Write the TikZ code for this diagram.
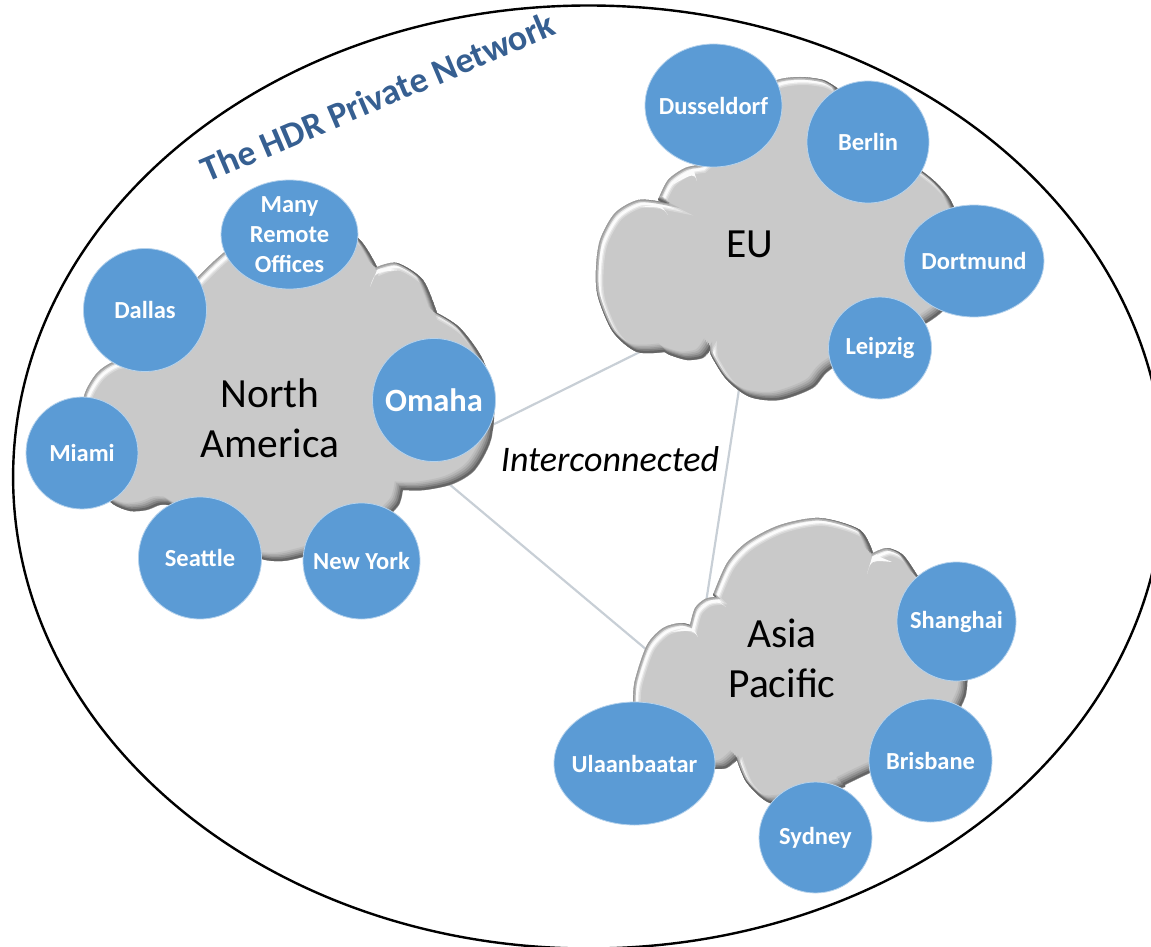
\documentclass[tikz,border=0pt]{standalone}
\usepackage{fontspec}
\setmainfont{Carlito}
\usetikzlibrary{shapes.geometric}
\definecolor{bubble}{HTML}{5B9BD5}
\definecolor{cloudgray}{HTML}{C9C9C9}
\definecolor{linkgray}{HTML}{C8CFD6}
\definecolor{titleblue}{HTML}{365F91}
\newcommand{\bevelcloud}[2]{%
  \begin{scope}
    \clip #1;
    \fill[cloudgray] #1;
    \draw[shift={(3.5,4)},line width=8pt,color=white!25!cloudgray] #1;
    \draw[shift={(3.5,4)},line width=5pt,color=white!60!cloudgray] #1;
    \draw[shift={(3.5,4)},line width=2.5pt,color=white!95!cloudgray] #1;
    #2
    \draw[line width=5pt,color=black!8!cloudgray] #1;
    \draw[line width=2.4pt,color=black!22!cloudgray] #1;
    \draw[shift={(-7,-7)},line width=3pt,color=black!6!cloudgray] #1;
    \draw[shift={(-5.5,-5.5)},line width=3pt,color=black!14!cloudgray] #1;
    \draw[shift={(-4,-4)},line width=3pt,color=black!24!cloudgray] #1;
    \draw[shift={(-2.5,-2.5)},line width=3pt,color=black!36!cloudgray] #1;
    \draw[shift={(-1.2,-1.2)},line width=2.4pt,color=black!50!cloudgray] #1;
  \end{scope}}
\newcommand{\crescent}[4]{\fill[white!92!cloudgray] (#1) -- (#2) .. controls (#3) .. (#4) -- cycle;}
\tikzset{
  bubblenode/.style={ellipse,fill=bubble,draw=bubble!45!white,line width=0.8pt,inner sep=0pt},
  btext/.style={text=white,font=\fontsize{24.5}{30}\selectfont\bfseries,align=center},
  cloudlabel/.style={font=\fontsize{41.5}{50}\selectfont,align=center,text=black},
  link/.style={draw=linkgray,line width=2.2pt},
}
\begin{document}
\begin{tikzpicture}[x=1pt,y=-1pt]
\useasboundingbox (0,0) rectangle (1151,947);
\begin{scope}
  \clip (0,0) rectangle (1151,947);
  \node[ellipse,draw=black,line width=2.4pt,minimum width=1151pt,minimum height=943pt,inner sep=0pt] (world) at (588.6,477) {};
\end{scope}

% connector end points, hidden behind the clouds
\coordinate (naNE) at (470,436);
\coordinate (euW)  at (660,342);
\coordinate (naSE) at (430,468);
\coordinate (apW)  at (660,661);
\coordinate (euS)  at (742,370);
\coordinate (apN)  at (702.5,625);
\draw[link] (naNE) -- (euW);
\draw[link] (naSE) -- (apW);
\draw[link] (euS) -- (apN);

% North America cloud
\bevelcloud{(80,420) -- plot[smooth] coordinates {(80,420) (85,393) (97,373) (113,362) (135,358)}
  -- plot[smooth] coordinates {(170,340) (180,300) (198,277) (227,250) (265,225) (320,220) (358,238) (377,267)}
  -- plot[smooth] coordinates {(377,267) (397,263) (423,280) (437,313)}
  -- plot[smooth] coordinates {(437,313) (460,328) (483,360) (494,400) (491,440) (475,470) (453,484) (425,490) (403,490)}
  -- plot[smooth] coordinates {(403,490) (399,505) (385,520)}
  -- plot[smooth] coordinates {(345,545) (303,557) (283,561) (262,559) (240,545)}
  -- plot[smooth] coordinates {(170,505) (160,505) (147,510) (130,511) (113,504) (100,490)}
  -- cycle}{\crescent{378,268}{370,287}{375,272}{400,270}}

% EU cloud
\bevelcloud{(665,352) -- plot[smooth] coordinates {(665,352) (637,352) (613,332) (598,297) (596,270) (600,240) (615,213) (638,200) (662,202)}
  -- plot[smooth] coordinates {(658,200) (668,180) (685,168) (700,165)}
  -- plot[smooth] coordinates {(740,130) (760,92) (777,80) (800,77) (823,80) (837,88)}
  -- plot[smooth] coordinates {(860,130) (923,172) (943,190) (953,205) (965,240) (960,290) (942,312) (927,323)}
  -- plot[smooth] coordinates {(880,340) (830,370) (813,388) (780,400) (750,397) (727,380) (712,357) (710,350)}
  -- plot[smooth] coordinates {(710,350) (703,358) (687,360) (670,355) (665,352)}
  -- cycle}{\crescent{660,204}{668,215}{662,207}{640,207}\crescent{693,168}{697,181}{694,173}{672,185}}

% Asia Pacific cloud
\bevelcloud{(633,715) -- plot[smooth] coordinates {(633,715) (633,702) (635,680) (647,645) (663,628) (680,623) (690,625)}
  -- plot[smooth] coordinates {(690,625) (695,608) (705,599) (715,597)}
  -- plot[smooth] coordinates {(713,595) (727,563) (747,542) (780,525) (820,518) (860,530) (873,553)}
  -- plot[smooth] coordinates {(873,553) (887,548) (903,555) (917,575)}
  -- plot[smooth] coordinates {(940,600) (965,650) (967,687) (962,705) (940,745)}
  -- plot[smooth] coordinates {(900,760) (870,773) (845,785)}
  -- plot[smooth] coordinates {(845,787) (800,800) (770,803) (747,783) (737,760)}
  -- plot[smooth] coordinates {(737,760) (727,768) (715,769) (690,770)}
  -- cycle}{\crescent{692,626}{698,637}{693,630}{672,632}\crescent{715,598}{726,607}{718,601}{700,606}\crescent{873,554}{867,574}{871,560}{892,562}}

% cloud labels
\node[cloudlabel] (na) at (270,418) {North\\America};
\node[cloudlabel] (eu) at (750,244) {EU};
\node[cloudlabel] (ap) at (782,658) {Asia\\Pacific};

% bubbles
\node[bubblenode,minimum width=137pt,minimum height=109pt,label={[btext]center:{Many\\Remote\\Offices}}] (remote) at (289.5,234.5) {};
\node[bubblenode,minimum width=123pt,minimum height=123pt,label={[btext]center:Dallas}] (dallas) at (145,310) {};
\node[bubblenode,minimum width=123pt,minimum height=123pt,label={[btext,font=\fontsize{32.5}{36}\selectfont\bfseries]center:Omaha}] (omaha) at (434,400) {};
\node[bubblenode,minimum width=112pt,minimum height=112pt,label={[btext]center:Miami}] (miami) at (82,453) {};
\node[bubblenode,minimum width=123pt,minimum height=122pt,label={[btext]center:Seattle}] (seattle) at (200,558) {};
\node[bubblenode,minimum width=117pt,minimum height=116pt,label={[btext]center:New York}] (newyork) at (361.5,561) {};

\node[bubblenode,minimum width=137pt,minimum height=123pt,label={[btext]center:Dusseldorf}] (dusseldorf) at (713.5,105.5) {};
\node[bubblenode,minimum width=122pt,minimum height=122pt,label={[btext]center:Berlin}] (berlin) at (868,142) {};
\node[bubblenode,minimum width=140pt,minimum height=112pt,label={[btext]center:Dortmund}] (dortmund) at (974,261) {};
\node[bubblenode,minimum width=103pt,minimum height=102pt,label={[btext]center:Leipzig}] (leipzig) at (880,348) {};

\node[bubblenode,minimum width=119pt,minimum height=119pt,label={[btext]center:Shanghai}] (shanghai) at (956.5,621.5) {};
\node[bubblenode,minimum width=123pt,minimum height=123pt,label={[btext]center:Brisbane}] (brisbane) at (930.5,760.5) {};
\node[bubblenode,minimum width=113pt,minimum height=111pt,label={[btext]center:Sydney}] (sydney) at (815.5,837.5) {};
\node[bubblenode,minimum width=161pt,minimum height=123pt,label={[btext]center:Ulaanbaatar}] (ulaan) at (634.5,763.5) {};

% other text
\node[font=\fontsize{36}{40}\selectfont\itshape,text=black] (inter) at (610,459) {Interconnected};
\node[font=\fontsize{36}{40}\selectfont\bfseries,text=titleblue,rotate=23] (title) at (378,97) {The HDR Private Network};
\end{tikzpicture}
\end{document}
